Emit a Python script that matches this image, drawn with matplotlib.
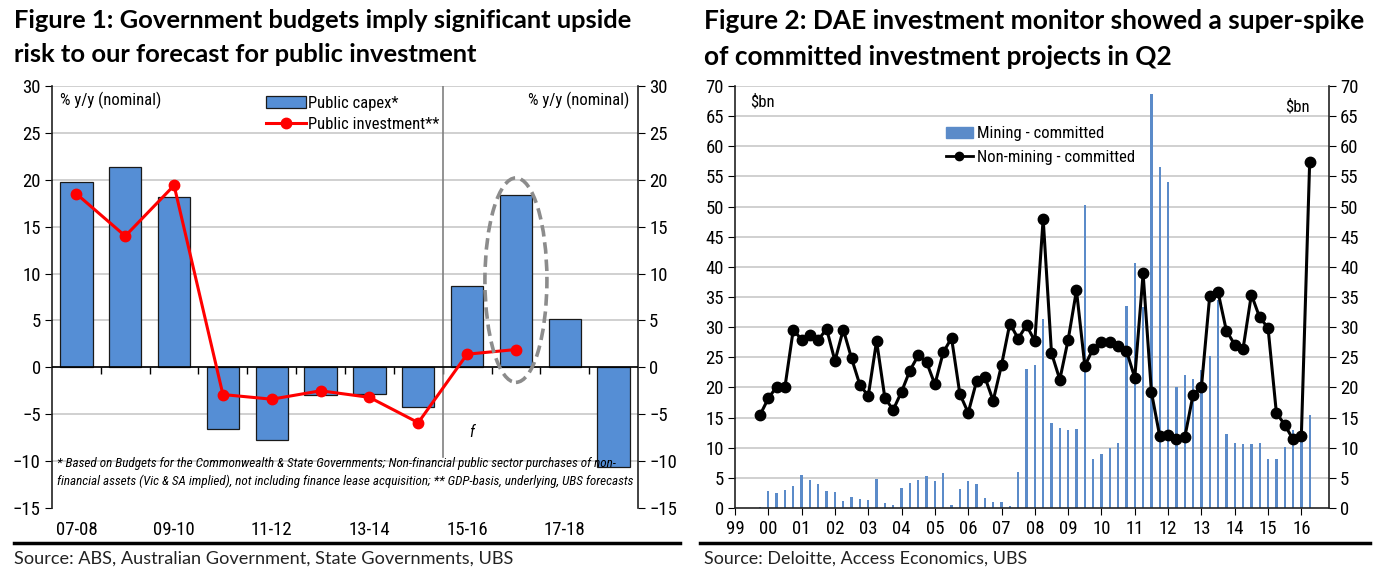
import numpy as np
import matplotlib
matplotlib.use("Agg")
import matplotlib.pyplot as plt
from matplotlib import font_manager
from matplotlib.patches import Ellipse, Patch
from matplotlib.lines import Line2D
import matplotlib.transforms as mtransforms

# ---------------- data ----------------
fy_labels = ["07-08", "08-09", "09-10", "10-11", "11-12", "12-13", "13-14",
             "14-15", "15-16", "16-17", "17-18", "18-19"]
public_capex = [19.8, 21.4, 18.2, -6.6, -7.7, -3.0, -2.8, -4.2, 8.7, 18.4, 5.2, -10.6]
public_investment = [18.5, 14.0, 19.4, -2.9, -3.4, -2.5, -3.2, -5.9, 1.4, 1.9]

first_quarter = (1999, 4)
mining_committed = [0.2, 2.8, 2.5, 3.0, 3.6, 5.4, 4.7, 4.0, 2.8, 2.6,
                    1.2, 1.8, 1.5, 1.4, 4.8, 0.9, 0.5, 3.4, 4.2, 4.7,
                    5.3, 4.5, 5.8, 0.5, 3.1, 4.5, 3.9, 1.6, 1.0, 1.0,
                    0.4, 6.0, 23.0, 23.8, 31.4, 14.1, 13.2, 13.0, 13.1, 50.2,
                    8.2, 8.9, 10.0, 10.8, 33.5, 40.7, 33.4, 68.7, 56.5, 54.1,
                    20.0, 22.1, 21.4, 22.9, 25.2, 34.5, 12.3, 10.8, 10.6, 10.6,
                    10.7, 8.2, 8.2, 10.2, 13.0, 12.0, 15.5]
nonmining_committed = [15.4, 18.2, 20.1, 20.1, 29.6, 27.9, 28.7, 27.9, 29.7, 24.4,
                       29.6, 24.8, 20.4, 18.6, 27.7, 18.2, 16.3, 19.3, 22.8, 25.3,
                       24.2, 20.5, 25.8, 28.2, 18.9, 15.8, 21.0, 21.7, 17.8, 23.7,
                       30.6, 28.1, 30.3, 27.7, 48.0, 25.7, 21.3, 27.9, 36.1, 23.6,
                       26.4, 27.5, 27.5, 26.8, 26.1, 21.6, 38.9, 19.2, 11.9, 12.1,
                       11.5, 11.7, 18.8, 20.0, 35.2, 35.8, 29.4, 27.1, 26.4, 35.4,
                       31.6, 29.9, 15.8, 13.8, 11.4, 12.0, 57.4]
year_ticks = list(range(1999, 2017))
year_labels = [f"{y % 100:02d}" for y in year_ticks]

# ---------------- fonts ----------------
avail = {f.name for f in font_manager.fontManager.ttflist}
def pick(*names):
    for n in names:
        if n in avail:
            return n
    return "DejaVu Sans"
NARROW = pick("Liberation Sans Narrow", "Roboto Condensed", "Open Sans Condensed",
              "Liberation Sans", "Arimo")
TITLE = pick("Lato", "Open Sans", "Noto Sans")
SRC = pick("Lato", "Open Sans", "Noto Sans")
plt.rcParams["font.family"] = [NARROW, "DejaVu Sans"]

W, H = 1376, 582
fig = plt.figure(figsize=(W / 100, H / 100), dpi=100)

def ax_rect(x0, y0, x1, y1):
    return [x0 / W, 1 - y1 / H, (x1 - x0) / W, (y1 - y0) / H]

def fit_width(t, target_px, max_size=None):
    r = fig.canvas.get_renderer()
    w = t.get_window_extent(renderer=r).width
    s = t.get_fontsize() * target_px / w
    if max_size is not None:
        s = min(s, max_size)
    t.set_fontsize(s)

# ---------------- titles / sources ----------------
t1 = fig.text(14 / W, 1 - 9 / H, "Figure 1: Government budgets imply significant upside\nrisk to our forecast for public investment",
              ha="left", va="top", fontsize=16, fontweight="bold", family=TITLE, linespacing=1.6)
t2 = fig.text(704 / W, 1 - 9 / H, "Figure 2: DAE investment monitor showed a super-spike\nof committed investment projects in Q2",
              ha="left", va="top", fontsize=16, fontweight="bold", family=TITLE, linespacing=1.6)
fit_width(t1, 620)
fit_width(t2, 662)
s1 = fig.text(14 / W, 1 - 559 / H, "Source: ABS, Australian Government, State Governments, UBS",
              ha="left", va="center", fontsize=12, family=SRC, color="#222222")
s2 = fig.text(704 / W, 1 - 559 / H, "Source: Deloitte, Access Economics, UBS",
              ha="left", va="center", fontsize=12, family=SRC, color="#222222")
fit_width(s1, 498)
fit_width(s2, 321)
fig.add_artist(Line2D([14 / W, 680 / W], [1 - 543 / H] * 2, color="black", lw=2.5))
fig.add_artist(Line2D([700 / W, 1370 / W], [1 - 543 / H] * 2, color="black", lw=2.5))

TICK_FS = 13.5

# ---------------- left chart ----------------
ax = fig.add_axes(ax_rect(52, 86, 638, 508))
x = np.arange(len(fy_labels))
bars = ax.bar(x, public_capex, width=0.66, color="#558ED5", edgecolor="#1a1a1a", lw=0.9, zorder=3)
line, = ax.plot(np.arange(len(public_investment)), public_investment, color="#FF0000", lw=2.2,
                marker="o", ms=7.5, zorder=5)
ax.set_xlim(-0.5, len(fy_labels) - 0.5)
ax.set_ylim(-15, 30)
ax.set_yticks(np.arange(-15, 31, 5))
for y in np.arange(-10, 31, 5):
    ax.axhline(y, color="#c8c8c8", lw=1.2, zorder=1)
ax.axhline(0, color="black", lw=1.2, zorder=4)
ax.spines["top"].set_visible(False)
ax.spines["bottom"].set_position(("data", 0))
ax.spines["bottom"].set_visible(False)
ax.set_xticks(x)
ax.set_xticklabels([])
ax.tick_params(axis="x", which="major", length=0)
ax.set_xticks(np.arange(0.5, len(fy_labels) - 0.5, 1), minor=True)
ax.tick_params(axis="x", which="minor", length=5, direction="out", width=1, color="black")
for sp in ("left", "right"):
    ax.spines[sp].set_color("#222222")
    ax.spines[sp].set_linewidth(1.2)
ax.tick_params(axis="y", which="both", left=True, right=True, labelleft=True, labelright=True,
               direction="out", length=5, labelsize=TICK_FS, pad=3)
trans = mtransforms.blended_transform_factory(ax.transData, ax.transAxes)
for i in range(0, len(fy_labels), 2):
    ax.text(x[i], -0.03, fy_labels[i], transform=trans, ha="center", va="top", fontsize=TICK_FS)
ax.plot([7.5, 7.5], [-9.6, 30], color="#808080", lw=1.2, zorder=2)
ax.text(8.1, -6.9, "f", fontstyle="italic", fontsize=11.5, ha="center", va="center")
ax.add_patch(Ellipse((9, 9.3), 1.27, 21.8, fill=False, ls=(0, (3.2, 1.6)), lw=2.6,
                     edgecolor="#8c8c8c", zorder=6))
ax.text(0.014, 0.965, "% y/y (nominal)", transform=ax.transAxes, ha="left", va="center", fontsize=12)
ax.text(0.985, 0.965, "% y/y (nominal)", transform=ax.transAxes, ha="right", va="center", fontsize=12)
fn = ax.text(0.009, 0.085, "* Based on Budgets for the Commonwealth & State Governments; Non-financial public sector purchases of non-\n"
             "financial assets (Vic & SA implied), not including finance lease acquisition; ** GDP-basis, underlying, UBS forecasts",
             transform=ax.transAxes, ha="left", va="center", fontsize=10, fontstyle="italic", linespacing=1.45,
             zorder=7)
fit_width(fn, 576, max_size=10.5)
ax.legend(handles=[bars, line], labels=["Public capex*", "Public investment**"],
          loc="upper left", bbox_to_anchor=(0.345, 1.005), frameon=False, fontsize=12,
          handlelength=2.4, handletextpad=0.1, labelspacing=0.4, borderaxespad=0.3)

# ---------------- right chart ----------------
bx = fig.add_axes(ax_rect(735, 86, 1329, 508))
n = len(mining_committed)
qx = first_quarter[0] + (first_quarter[1] - 1) / 4 + 0.25 * np.arange(n)
bx.bar(qx, mining_committed, width=0.07, color="#5B8BC9", zorder=2)
bx.plot(qx, nonmining_committed, color="black", lw=2.2, marker="o", ms=7.5, zorder=4)
bx.set_xlim(1999, 2016.83)
bx.set_ylim(0, 70)
bx.set_yticks(np.arange(0, 71, 5))
for y in np.arange(5, 71, 5):
    bx.axhline(y, color="#c8c8c8", lw=1.2, zorder=1)
bx.set_xticks(year_ticks)
bx.set_xticklabels(year_labels)
bx.spines["top"].set_visible(False)
for sp in ("left", "right", "bottom"):
    bx.spines[sp].set_color("#222222")
    bx.spines[sp].set_linewidth(1.2)
bx.tick_params(axis="x", direction="out", length=5, labelsize=TICK_FS, pad=4)
bx.tick_params(axis="y", left=True, right=True, labelleft=True, labelright=True,
               direction="out", length=5, labelsize=TICK_FS, pad=3)
bx.text(0.025, 0.962, "$bn", transform=bx.transAxes, ha="left", va="center", fontsize=12)
bx.text(0.967, 0.952, "$bn", transform=bx.transAxes, ha="right", va="center", fontsize=12)
bx.legend(loc="upper left", bbox_to_anchor=(0.33, 0.94), frameon=False, fontsize=12,
          handlelength=1.6, handletextpad=0.25, labelspacing=0.5,
          handles=[Patch(color="#5B8BC9"), Line2D([], [], color="black", lw=2, marker="o", ms=6)],
          labels=["Mining - committed", "Non-mining - committed"])

fig.savefig("out.png", dpi=100)
